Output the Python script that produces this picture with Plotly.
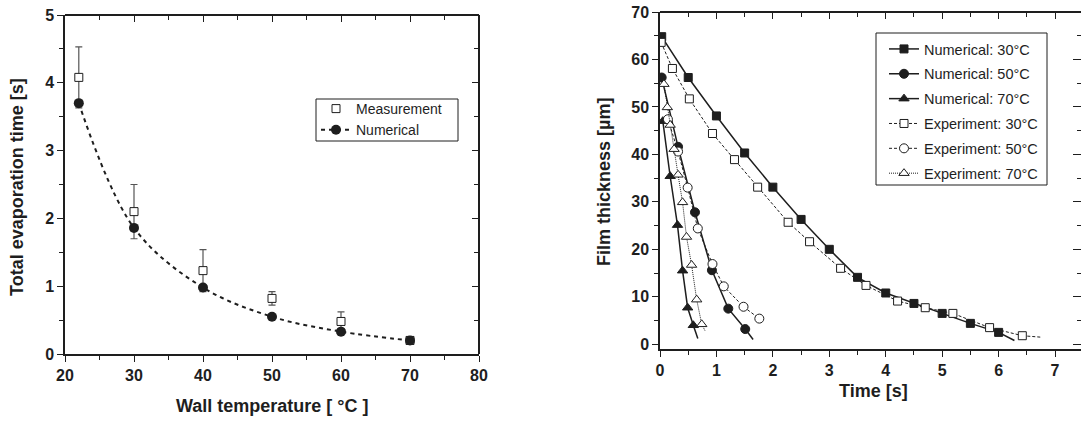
import plotly.graph_objects as go

# ---------------- Left panel data ----------------
wall_temp = [22, 30, 40, 50, 60, 70]
meas_time = [4.08, 2.10, 1.23, 0.82, 0.48, 0.20]
meas_err = [0.45, 0.40, 0.31, 0.10, 0.14, 0.0]
num_time = [3.70, 1.86, 0.98, 0.55, 0.33, 0.20]

# ---------------- Right panel data ----------------
num30_t = [0.03, 0.5, 1.0, 1.5, 2.0, 2.5, 3.0, 3.5, 4.0, 4.5, 5.0, 5.5, 6.0]
num30_h = [64.8, 56.2, 48.1, 40.3, 33.1, 26.3, 20.0, 14.1, 10.8, 8.6, 6.5, 4.4, 2.5]
num30_tail = [6.28, 0.8]

num50_t = [0.03, 0.32, 0.62, 0.92, 1.21, 1.51]
num50_h = [56.2, 41.6, 27.8, 15.6, 7.5, 3.2]
num50_tail = [1.65, 1.0]

num70_t = [0.05, 0.18, 0.31, 0.40, 0.49, 0.59]
num70_h = [47.0, 35.4, 25.1, 15.5, 7.7, 4.0]
num70_tail = [0.67, 1.2]

exp30_t = [0.02, 0.22, 0.52, 0.93, 1.32, 1.73, 2.27, 2.65, 3.20, 3.65, 4.21, 4.70, 5.19, 5.84, 6.42]
exp30_h = [63.6, 58.1, 51.7, 44.4, 38.9, 33.1, 25.7, 21.6, 16.0, 12.4, 9.1, 7.7, 6.5, 3.5, 1.8]
exp30_tail = [6.74, 1.5]

exp50_t = [0.14, 0.32, 0.49, 0.67, 0.93, 1.13, 1.48, 1.76]
exp50_h = [47.4, 40.6, 33.0, 24.4, 16.9, 12.2, 7.9, 5.4]
exp50_tail = None

exp70_t = [0.07, 0.13, 0.18, 0.25, 0.32, 0.40, 0.47, 0.56, 0.65, 0.74]
exp70_h = [54.8, 49.9, 46.2, 41.1, 35.7, 29.9, 22.6, 16.7, 9.4, 4.2]
exp70_tail = [0.80, 2.8]

FONT = "Liberation Sans, Arial, sans-serif"
INK = "#1e1e1e"
W, H = 1081, 421

L_dom = [65 / W, 479 / W]
L_ydom = [1 - 354 / H, 1 - 15 / H]
R_dom = [660 / W, 1.0]
R_ydom = [1 - 349 / H, 1 - 12 / H]
L_xr, L_yr = [20, 80], [0, 5]
R_xr, R_yr = [0, 7.46], [-1, 70]

fig = go.Figure()

# Left panel
fig.add_trace(go.Scatter(
    x=wall_temp, y=meas_time, mode="markers", name="Measurement",
    marker=dict(symbol="square", size=8, color="white", line=dict(color=INK, width=1)),
    error_y=dict(type="data", array=meas_err, visible=True, color="#555555", thickness=1.2, width=3.5),
    xaxis="x", yaxis="y", legend="legend"))
fig.add_trace(go.Scatter(
    x=wall_temp, y=num_time, mode="lines+markers", name="Numerical",
    line=dict(color=INK, width=2, dash="4px,4px", shape="spline", smoothing=1.0),
    marker=dict(symbol="circle", size=10, color=INK),
    xaxis="x", yaxis="y", legend="legend"))

# Right panel
series = [
    ("Numerical: 30°C", num30_t, num30_h, num30_tail, "square", INK, "solid", 1.5, 8),
    ("Numerical: 50°C", num50_t, num50_h, num50_tail, "circle", INK, "solid", 1.5, 9),
    ("Numerical: 70°C", num70_t, num70_h, num70_tail, "triangle-up", INK, "solid", 1.5, 9),
    ("Experiment: 30°C", exp30_t, exp30_h, exp30_tail, "square", "white", "3px,2px", 1.0, 8),
    ("Experiment: 50°C", exp50_t, exp50_h, exp50_tail, "circle", "white", "3px,2px", 1.0, 9),
    ("Experiment: 70°C", exp70_t, exp70_h, exp70_tail, "triangle-up", "white", "1px,1px", 1.0, 9),
]
for i, (name, t, h, tail, sym, fill, dash, lw, ms) in enumerate(series):
    if tail is not None:
        fig.add_trace(go.Scatter(
            x=[t[-1], tail[0]], y=[h[-1], tail[1]], mode="lines", showlegend=False,
            line=dict(color=INK, width=lw, dash=dash), hoverinfo="skip",
            xaxis="x2", yaxis="y2"))
    fig.add_trace(go.Scatter(
        x=t, y=h, mode="lines+markers", name=name, legendgroup=f"g{i}",
        line=dict(color=INK, width=lw, dash=dash),
        marker=dict(symbol=sym, size=ms, color=fill, line=dict(color=INK, width=1)),
        xaxis="x2", yaxis="y2", legend="legend2"))

# invisible anchors so the mirrored (inward-tick) frame axes get drawn
fig.add_trace(go.Scatter(x=[L_xr[0]], y=[L_yr[0]], mode="markers", marker=dict(opacity=0),
                         showlegend=False, hoverinfo="skip", xaxis="x3", yaxis="y3"))
fig.add_trace(go.Scatter(x=[R_xr[0]], y=[R_yr[0]], mode="markers", marker=dict(opacity=0),
                         showlegend=False, hoverinfo="skip", xaxis="x4", yaxis="y4"))

tickfont = dict(family=FONT, size=16, color=INK, weight="bold")
common = dict(showline=True, linecolor=INK, linewidth=1.5, showgrid=False, zeroline=False,
              tickcolor=INK, tickwidth=1.2, tickfont=tickfont, autorange=False)


def minor(d, kind):
    return dict(dtick=d, ticks=kind, ticklen=4, tickcolor=INK, tickwidth=1.2)


fig.update_layout(
    width=W, height=H, margin=dict(l=0, r=0, t=0, b=0, autoexpand=False),
    paper_bgcolor="white", plot_bgcolor="white",
    font=dict(family=FONT, color=INK),
    xaxis=dict(domain=L_dom, anchor="y", range=L_xr, dtick=10, tick0=20, ticks="outside", ticklen=6,
               minor=minor(5, "outside"), **common),
    yaxis=dict(domain=L_ydom, anchor="x", range=L_yr, dtick=1, ticks="outside", ticklen=6,
               minor=minor(0.5, "outside"), **common),
    xaxis3=dict(overlaying="x", anchor="free", position=L_ydom[1], side="top", range=L_xr, dtick=10, tick0=20,
                ticks="inside", ticklen=6, showticklabels=False, minor=minor(5, "inside"), **common),
    yaxis3=dict(overlaying="y", anchor="free", position=L_dom[1], side="right", range=L_yr, dtick=1,
                ticks="inside", ticklen=6, showticklabels=False, minor=minor(0.5, "inside"), **common),
    xaxis2=dict(domain=R_dom, anchor="y2", range=R_xr, dtick=1, tick0=0, ticks="outside", ticklen=6,
                minor=minor(0.5, "outside"), **common),
    yaxis2=dict(domain=R_ydom, anchor="x2", range=R_yr, dtick=10, tick0=0, ticks="outside", ticklen=6,
                minor=minor(5, "outside"), **common),
    xaxis4=dict(overlaying="x2", anchor="free", position=R_ydom[1], side="top", range=R_xr, dtick=1, tick0=0,
                ticks="inside", ticklen=6, showticklabels=False, minor=minor(0.5, "inside"), **common),
    yaxis4=dict(overlaying="y2", anchor="free", position=1.0, side="right", range=R_yr, dtick=10, tick0=0,
                ticks="inside", ticklen=8, showticklabels=False, minor=minor(5, "inside"),
                **{**common, "showline": False}),
    legend=dict(x=316 / W, y=1 - 93 / H, xanchor="left", yanchor="top", bgcolor="rgba(0,0,0,0)",
                borderwidth=0, font=dict(family=FONT, size=14, color=INK),
                itemwidth=30, tracegroupgap=0),
    legend2=dict(x=884 / W, y=1 - 33 / H, xanchor="left", yanchor="top", bgcolor="rgba(0,0,0,0)",
                 borderwidth=0, font=dict(family=FONT, size=14.5, color=INK),
                 itemwidth=30, tracegroupgap=3, traceorder="grouped"),
    showlegend=True,
)

# legend frames
fig.add_shape(type="rect", xref="paper", yref="paper", x0=316 / W, x1=458 / W, y0=1 - 141 / H, y1=1 - 99 / H,
              line=dict(color=INK, width=1), fillcolor="white", layer="above")
fig.add_shape(type="rect", xref="paper", yref="paper", x0=876 / W, x1=1047 / W, y0=1 - 185 / H, y1=1 - 33 / H,
              line=dict(color=INK, width=1), fillcolor="white", layer="above")

titlefont = dict(family=FONT, size=18, color=INK, weight="bold")
fig.add_annotation(text="Total evaporation time [s]", x=17 / W, y=1 - 187 / H, xref="paper", yref="paper",
                   textangle=-90, showarrow=False, font=titlefont, xanchor="center", yanchor="middle")
fig.add_annotation(text="Wall temperature [ °C ]", x=272 / W, y=1 - 406 / H, xref="paper", yref="paper",
                   showarrow=False, font=titlefont, xanchor="center", yanchor="middle")
fig.add_annotation(text="Film thickness [µm]", x=604 / W, y=1 - 182 / H, xref="paper", yref="paper",
                   textangle=-90, showarrow=False, font=titlefont, xanchor="center", yanchor="middle")
fig.add_annotation(text="Time [s]", x=873 / W, y=1 - 391 / H, xref="paper", yref="paper",
                   showarrow=False, font=titlefont, xanchor="center", yanchor="middle")

fig.write_html("out.html", config={"displayModeBar": False},
               post_script="document.body.style.margin='0';")
